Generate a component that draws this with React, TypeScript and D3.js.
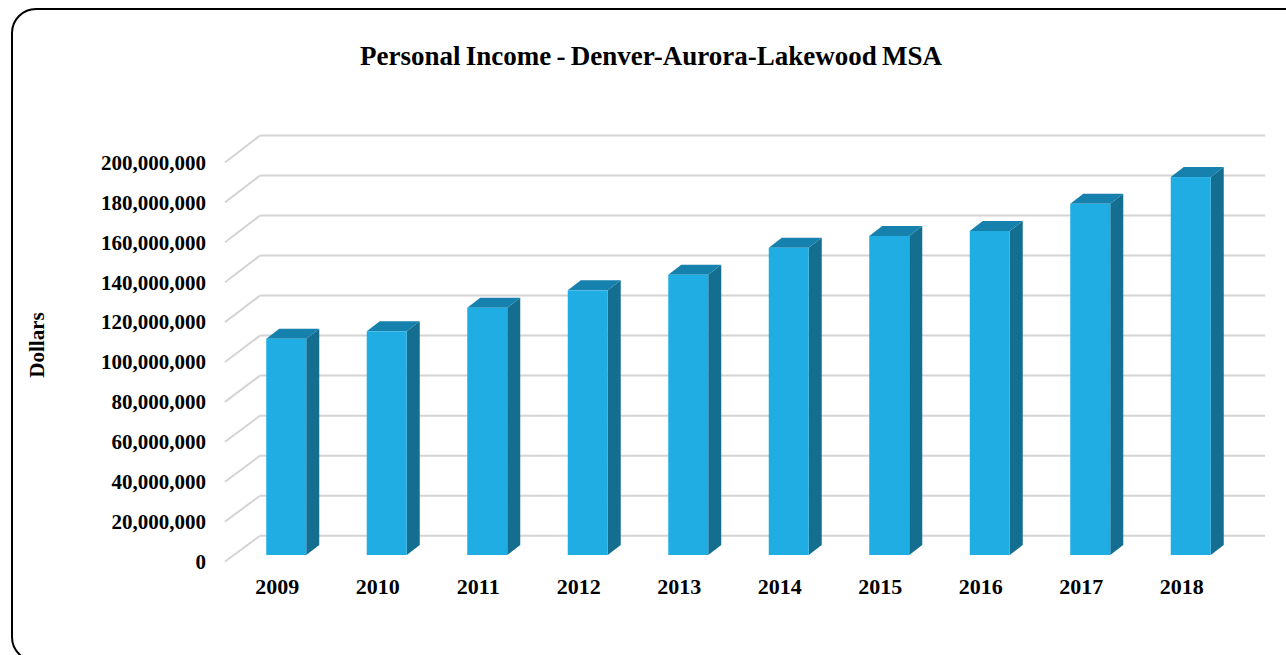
import React from "react";
import * as d3 from "d3";

const years = ["2009", "2010", "2011", "2012", "2013", "2014", "2015", "2016", "2017", "2018"];
const income = [108.3e6, 112.0e6, 123.8e6, 132.5e6, 140.3e6, 153.8e6, 159.7e6, 162.2e6, 175.8e6, 189.2e6];
const ticks = [0, 20e6, 40e6, 60e6, 80e6, 100e6, 120e6, 140e6, 160e6, 180e6, 200e6];

const W = 1286;
const H = 655;
const FONT = "'Liberation Serif', 'Times New Roman', serif";

export default function App() {
  // category scale on the front plane
  const x = d3.scaleBand<string>().domain(years).range([225, 1230]);
  // front-plane and back-plane value scales
  const yFront = d3.scaleLinear().domain([0, 200e6]).range([561.5, 162.5]);
  const yBack = d3.scaleLinear().domain([0, 200e6]).range([535.7, 135.5]);
  const yBar = d3.scaleLinear().domain([0, 200e6]).range([555, 155.5]);
  const backX0 = 260;
  const backX1 = 1265;
  const frontX0 = 225;
  const bw = 40;
  const ddx = 13;
  const ddy = -10;
  const fmt = d3.format(",");

  return (
    <svg width={W} height={H} style={{ position: "absolute", left: 0, top: 0, background: "#fff" }}>
      <rect x={12} y={9} width={1300} height={652} rx={24} ry={24} fill="#fff" stroke="#000" strokeWidth={2} />
      <text x={651} y={65} textAnchor="middle" fontFamily={FONT} fontWeight="bold" fontSize={27} fill="#000" wordSpacing={-1.5}>
        Personal Income - Denver-Aurora-Lakewood MSA
      </text>
      {/* gridlines */}
      {ticks.map((t) => (
        <g key={t}>
          <line x1={frontX0} y1={yFront(t)} x2={backX0} y2={yBack(t)} stroke="#d4d4d4" strokeWidth={2} />
          <line x1={backX0} y1={yBack(t)} x2={backX1} y2={yBack(t)} stroke="#d4d4d4" strokeWidth={2} />
          <text x={206} y={yFront(t)} dy="0.35em" textAnchor="end" fontFamily={FONT} fontWeight="bold" fontSize={21} fill="#000">
            {fmt(t)}
          </text>
        </g>
      ))}
      {/* bars */}
      {years.map((yr, i) => {
        const v = income[i];
        const cx = (x(yr) as number) + x.bandwidth() / 2 + 11;
        const x0 = cx - bw / 2;
        const x1 = cx + bw / 2;
        const yt = yBar(v);
        const yb = yBar(0);
        const side = `M${x1},${yt} L${x1 + ddx},${yt + ddy} L${x1 + ddx},${yb + ddy} L${x1},${yb} Z`;
        const top = `M${x0},${yt} L${x0 + ddx},${yt + ddy} L${x1 + ddx},${yt + ddy} L${x1},${yt} Z`;
        return (
          <g key={yr}>
            <path d={side} fill="#146e90" />
            <path d={top} fill="#1681ad" />
            <rect x={x0} y={yt} width={bw} height={yb - yt} fill="#1fade4" />
          </g>
        );
      })}
      {/* category labels */}
      {years.map((yr) => (
        <text key={yr} x={(x(yr) as number) + x.bandwidth() / 2 + 2} y={594} textAnchor="middle" fontFamily={FONT} fontWeight="bold" fontSize={22} fill="#000">
          {yr}
        </text>
      ))}
      <text transform="translate(44,345) rotate(-90)" textAnchor="middle" fontFamily={FONT} fontWeight="bold" fontSize={21} fill="#000">
        Dollars
      </text>
    </svg>
  );
}
